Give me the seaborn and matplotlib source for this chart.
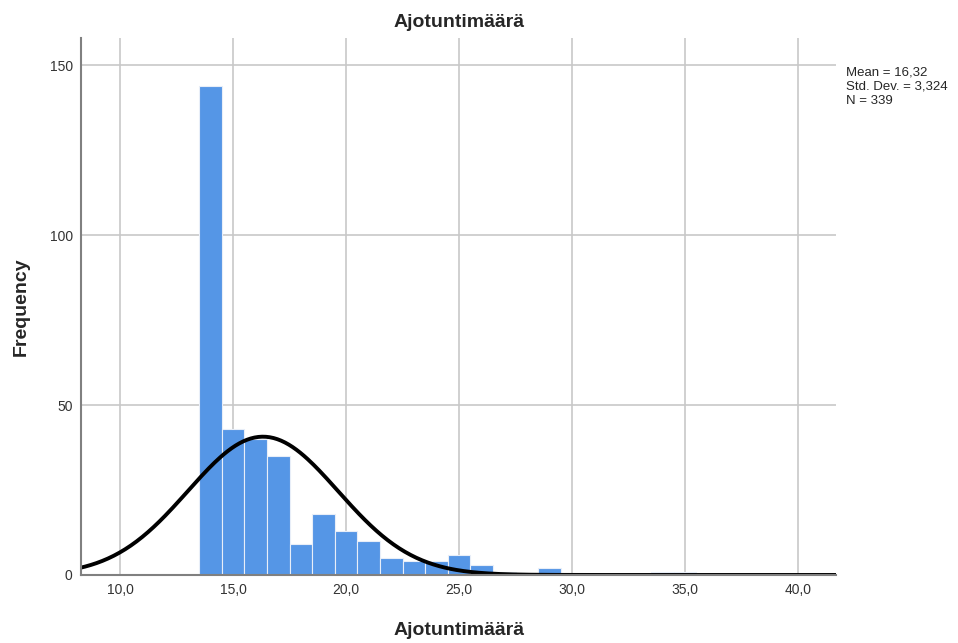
import matplotlib
matplotlib.use("Agg")
import matplotlib.pyplot as plt
import seaborn as sns
import numpy as np
import pandas as pd

# Histogram data (bin centres, width 1)
bin_centers = [14, 15, 16, 17, 18, 19, 20, 21, 22, 23, 24, 25, 26, 27, 29, 34, 35]
counts = [144, 43, 40, 35, 9, 18, 13, 10, 5, 4, 4, 6, 3, 1, 2, 1, 1]
mean, sd, n = 16.32, 3.324, 339
x_ticks = [10, 15, 20, 25, 30, 35, 40]
y_ticks = [0, 50, 100, 150]

df = pd.DataFrame({'value': bin_centers, 'count': counts})

sns.set_style("white")
plt.rcParams['font.family'] = ['Liberation Sans', 'DejaVu Sans']

fig = plt.figure(figsize=(9.58, 6.43), dpi=100)
ax = fig.add_axes([0.0846, 0.1058, 0.7881, 0.8352])

sns.histplot(data=df, x='value', weights='count', binwidth=1, binrange=(13.5, 35.5),
             ax=ax, color='#5596E6', edgecolor='#e8eef8', linewidth=0.8, alpha=1)

# Normal curve scaled to counts
xs = np.linspace(8.2, 41.8, 400)
ys = n * 1.0 * np.exp(-0.5 * ((xs - mean) / sd) ** 2) / (sd * np.sqrt(2 * np.pi))
sns.lineplot(x=xs, y=ys, ax=ax, color='black', linewidth=2.8)

ax.set_xlim(8.27, 41.68)
ax.set_ylim(0, 158)
ax.set_xticks(x_ticks)
ax.set_xticklabels([f"{t:.1f}".replace('.', ',') for t in x_ticks])
ax.set_yticks(y_ticks)
ax.grid(True, color='#c8c8c8', linewidth=1.2)
ax.set_axisbelow(True)
for s in ['top', 'right']:
    ax.spines[s].set_visible(False)
for s in ['left', 'bottom']:
    ax.spines[s].set_color('#808080')
    ax.spines[s].set_linewidth(1.5)
ax.tick_params(axis='both', length=0, labelsize=10, colors='#333333', pad=6)

ax.set_title('Ajotuntimäärä', fontsize=14, fontweight='bold', pad=8)
ax.set_xlabel('Ajotuntimäärä', fontsize=14, fontweight='bold', labelpad=18)
ax.set_ylabel('Frequency', fontsize=14, fontweight='bold', labelpad=14)

fig.text(0.883, 0.897, f"Mean = 16,32\nStd. Dev. = 3,324\nN = {n}",
         fontsize=9.5, va='top', ha='left', linespacing=1.25)

fig.savefig('out.png', dpi=100)
